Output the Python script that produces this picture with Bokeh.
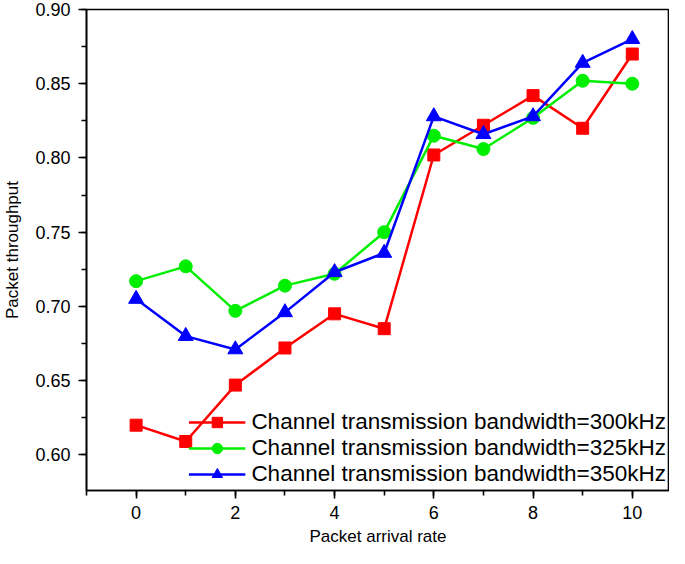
from bokeh.plotting import figure
from bokeh.models import Range1d, SingleIntervalTicker, Legend, LegendItem, CustomJSTickFormatter
from bokeh.embed import file_html
from bokeh.resources import INLINE

x = [0, 1, 2, 3, 4, 5, 6, 7, 8, 9, 10]
bw300 = [0.620, 0.609, 0.647, 0.672, 0.695, 0.685, 0.802, 0.822, 0.842, 0.820, 0.870]
bw325 = [0.717, 0.727, 0.697, 0.714, 0.722, 0.750, 0.815, 0.806, 0.827, 0.852, 0.850]
bw350 = [0.705, 0.680, 0.671, 0.696, 0.723, 0.736, 0.828, 0.816, 0.828, 0.864, 0.880]
labels = ["Channel transmission bandwidth=300kHz",
          "Channel transmission bandwidth=325kHz",
          "Channel transmission bandwidth=350kHz"]

FONT = "Liberation Sans"

p = figure(width=669, height=548, output_backend="svg", toolbar_location=None,
           x_range=Range1d(-1, 10.75), y_range=Range1d(0.576, 0.90),
           min_border_left=77, min_border_right=0, min_border_top=9, min_border_bottom=56)

p.grid.visible = False
p.outline_line_color = "black"
p.outline_line_width = 1.6
p.background_fill_color = "white"
p.border_fill_color = "white"

p.xaxis.ticker = SingleIntervalTicker(interval=2, num_minor_ticks=2)
p.yaxis.ticker = SingleIntervalTicker(interval=0.05, num_minor_ticks=2)
p.yaxis.formatter = CustomJSTickFormatter(code="return tick.toFixed(2);")

for ax in (p.xaxis, p.yaxis):
    ax.axis_line_color = "black"
    ax.axis_line_width = 1.6
    ax.major_tick_line_color = "black"
    ax.major_tick_line_width = 1.6
    ax.minor_tick_line_color = "black"
    ax.minor_tick_line_width = 1.6
    ax.major_tick_out = 8
    ax.major_tick_in = 0
    ax.minor_tick_out = 5
    ax.minor_tick_in = 0
    ax.major_label_text_font = FONT
    ax.major_label_text_font_size = "18px"
    ax.major_label_text_color = "black"
    ax.axis_label_text_font = FONT
    ax.axis_label_text_font_size = "17px"
    ax.axis_label_text_font_style = "normal"
    ax.axis_label_text_color = "black"

p.xaxis.axis_label = "Packet arrival rate"
p.yaxis.axis_label = "Packet throughput"
p.xaxis.major_label_standoff = 7
p.yaxis.major_label_standoff = 8
p.xaxis.axis_label_standoff = 5
p.yaxis.axis_label_standoff = 10

r1 = p.line(x, bw300, line_color="#FF0000", line_width=2.5)
m1 = p.scatter(x, bw300, marker="square", size=12, fill_color="#FF0000", line_color="#FF0000")
r2 = p.line(x, bw325, line_color="#00EE00", line_width=2.5)
m2 = p.scatter(x, bw325, marker="circle", size=13, fill_color="#00EE00", line_color="#00EE00")
r3 = p.line(x, bw350, line_color="#0000FF", line_width=2.5)
m3 = p.scatter(x, bw350, marker="triangle", size=15, fill_color="#0000FF", line_color="#0000FF")

legend = Legend(items=[LegendItem(label=labels[0], renderers=[r1, m1]),
                       LegendItem(label=labels[1], renderers=[r2, m2]),
                       LegendItem(label=labels[2], renderers=[r3, m3])],
                location="bottom_right")
legend.background_fill_alpha = 0
legend.border_line_alpha = 0
legend.label_text_font = FONT
legend.label_text_font_size = "22.5px"
legend.label_text_color = "black"
legend.glyph_width = 57
legend.glyph_height = 26
legend.label_height = 26
legend.spacing = 0
legend.padding = 2
legend.margin = 1
legend.label_standoff = 6
p.add_layout(legend)

open("out.html", "w").write(file_html(p, INLINE))
